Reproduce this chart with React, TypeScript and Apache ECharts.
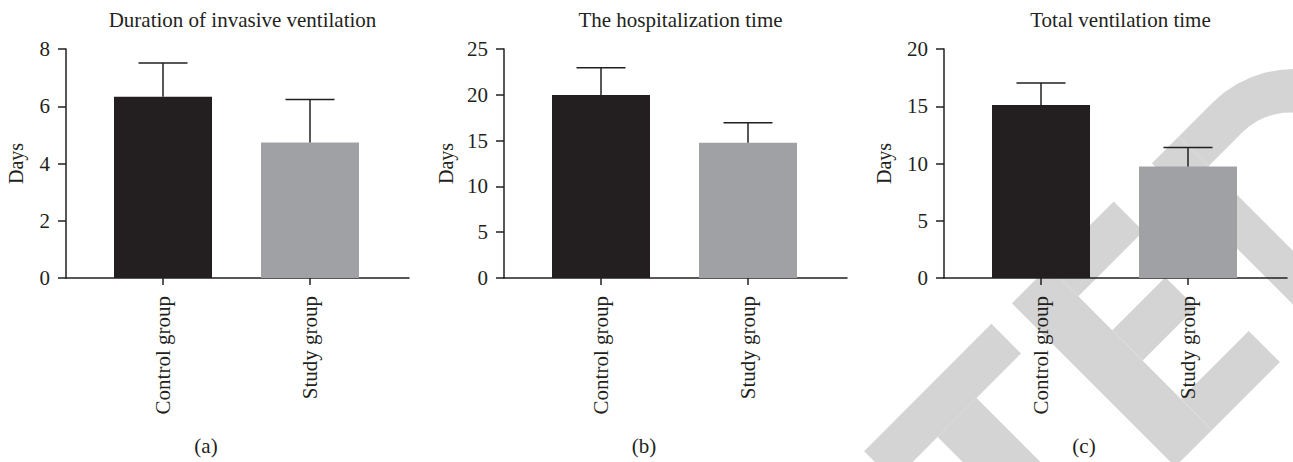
import React, { useEffect, useRef } from "react";
import * as echarts from "echarts";

// ---------- data ----------
const categories = ["Control group", "Study group"];
const panelTitles = [
  "Duration of invasive ventilation",
  "The hospitalization time",
  "Total ventilation time",
];
const panelTags = ["(a)", "(b)", "(c)"];
const meanA = [6.33, 4.73];
const upperA = [7.51, 6.24];
const meanB = [19.98, 14.77];
const upperB = [22.96, 16.95];
const meanC = [15.12, 9.74];
const upperC = [17.03, 11.39];
const yMaxes = [8, 25, 20];
const yIntervals = [2, 5, 5];
const yName = "Days";

// ---------- layout / style ----------
const FONT = "Liberation Serif";
const INK = "#231f20";
const BAR_COLORS = ["#231f20", "#a0a1a5"];
const WM = "#d4d4d4";
const axisLeft = [66, 504, 944];
const nameGaps = [40, 48, 50];
const GRID_TOP = 49;
const GRID_H = 229;
const FULL_W = 343;
const BAR_GRID_OFF = 23.5;
const BAR_GRID_W = 294;
const FS = 21;

// watermark letters ("TED" of a diagonal RETRACTED stamp), in a rotated frame
function uv(u: number, v: number) {
  return [(u - v) / Math.SQRT2, -(u + v) / Math.SQRT2];
}
function rectUV(u0: number, u1: number, v0: number, v1: number) {
  return [uv(u0, v0), uv(u1, v0), uv(u1, v1), uv(u0, v1)];
}
function dBowl(uL: number) {
  const uc = 785, vc = -1045.5;
  const a = 115, b = 115.5, ai = 70, bi = 73.5;
  const pts: number[][] = [];
  pts.push(uv(uL, -930));
  for (let i = 0; i <= 24; i++) {
    const t = Math.PI / 2 - (Math.PI * i) / 24;
    pts.push(uv(uc + a * Math.cos(t), vc + b * Math.sin(t)));
  }
  pts.push(uv(uL, -1161));
  pts.push(uv(uL, -1161 + 42));
  for (let i = 24; i >= 0; i--) {
    const t = Math.PI / 2 - (Math.PI * i) / 24;
    pts.push(uv(uc + ai * Math.cos(t), vc + bi * Math.sin(t)));
  }
  pts.push(uv(uL, -972));
  return pts;
}
const watermarkShapes = [
  rectUV(292, 472, -972, -930),
  rectUV(354, 409, -1161, -972),
  rectUV(501, 553, -1161, -930),
  rectUV(553, 645, -972, -930),
  rectUV(553, 628, -1063, -1020),
  rectUV(553, 649, -1161, -1117),
  rectUV(699, 737, -1161, -930),
  dBowl(737),
];

export default function App() {
  const ref = useRef<HTMLDivElement>(null);
  useEffect(() => {
    if (!ref.current) return;
    const chart = echarts.init(ref.current, null, { renderer: "svg" });
    const means = [meanA, meanB, meanC];
    const uppers = [upperA, upperB, upperC];
    const grids: any[] = [];
    const xAxes: any[] = [];
    const yAxes: any[] = [];
    const series: any[] = [];
    const titles: any[] = [];
    const graphics: any[] = [];

    watermarkShapes.forEach((pts) => {
      graphics.push({
        type: "polygon",
        shape: { points: pts },
        style: { fill: WM },
        z: -10,
        silent: true,
      });
    });

    for (let k = 0; k < 3; k++) {
      const ax = axisLeft[k];
      grids.push({ left: ax, top: GRID_TOP, width: FULL_W, height: GRID_H });
      grids.push({ left: ax + BAR_GRID_OFF, top: GRID_TOP, width: BAR_GRID_W, height: GRID_H });
      xAxes.push({
        type: "category",
        gridIndex: 2 * k,
        data: [""],
        axisLine: { show: true, lineStyle: { color: INK, width: 1.5 } },
        axisTick: { show: false },
        axisLabel: { show: false },
        splitLine: { show: false },
      });
      xAxes.push({
        type: "category",
        gridIndex: 2 * k + 1,
        data: categories,
        axisLine: { show: false },
        axisTick: { show: true, alignWithLabel: true, length: 7, lineStyle: { color: INK, width: 1.5 } },
        axisLabel: {
          rotate: 90,
          margin: 18,
          color: INK,
          fontSize: FS,
          fontFamily: FONT,
        },
        splitLine: { show: false },
      });
      yAxes.push({
        type: "value",
        gridIndex: 2 * k,
        min: 0,
        max: yMaxes[k],
        interval: yIntervals[k],
        name: yName,
        nameLocation: "middle",
        nameRotate: 90,
        nameGap: nameGaps[k],
        nameTextStyle: { color: INK, fontSize: 20, fontFamily: FONT },
        axisLine: { show: true, lineStyle: { color: INK, width: 1.5 } },
        axisTick: { show: true, length: 8, lineStyle: { color: INK, width: 1.5 } },
        axisLabel: { margin: 16, color: INK, fontSize: FS, fontFamily: FONT },
        splitLine: { show: false },
      });
      yAxes.push({
        type: "value",
        gridIndex: 2 * k + 1,
        min: 0,
        max: yMaxes[k],
        interval: yIntervals[k],
        show: false,
        splitLine: { show: false },
      });
      series.push({
        type: "bar",
        xAxisIndex: 2 * k + 1,
        yAxisIndex: 2 * k + 1,
        barWidth: 98,
        data: means[k].map((v, i) => ({ value: v, itemStyle: { color: BAR_COLORS[i] } })),
        z: 3,
      });
      series.push({
        type: "custom",
        xAxisIndex: 2 * k + 1,
        yAxisIndex: 2 * k + 1,
        z: 5,
        encode: { x: 0, y: 1 },
        data: means[k].map((v, i) => [i, v, uppers[k][i]]),
        renderItem: (params: any, api: any) => {
          const i = api.value(0);
          const p0 = api.coord([i, api.value(1)]);
          const p1 = api.coord([i, api.value(2)]);
          const st = { stroke: INK, lineWidth: 1.5 };
          return {
            type: "group",
            children: [
              { type: "line", shape: { x1: p0[0], y1: p0[1], x2: p1[0], y2: p1[1] }, style: st },
              { type: "line", shape: { x1: p1[0] - 24.5, y1: p1[1], x2: p1[0] + 24.5, y2: p1[1] }, style: st },
            ],
          };
        },
      });
      titles.push({
        text: panelTitles[k],
        left: ax + FULL_W / 2,
        top: 4,
        textAlign: "center",
        textStyle: { color: INK, fontSize: FS, fontWeight: "normal", fontFamily: FONT },
      });
      graphics.push({
        type: "text",
        style: {
          text: panelTags[k],
          x: ax + 140,
          y: 446,
          align: "center",
          verticalAlign: "middle",
          fontSize: FS,
          fontFamily: FONT,
          fill: INK,
        },
      });
    }

    chart.setOption({
      animation: false,
      backgroundColor: "#ffffff",
      title: titles,
      grid: grids,
      xAxis: xAxes,
      yAxis: yAxes,
      series,
      graphic: graphics,
    });
    return () => chart.dispose();
  }, []);
  return (
    <div
      ref={ref}
      style={{ position: "absolute", left: 0, top: 0, width: 1293, height: 462 }}
    />
  );
}
